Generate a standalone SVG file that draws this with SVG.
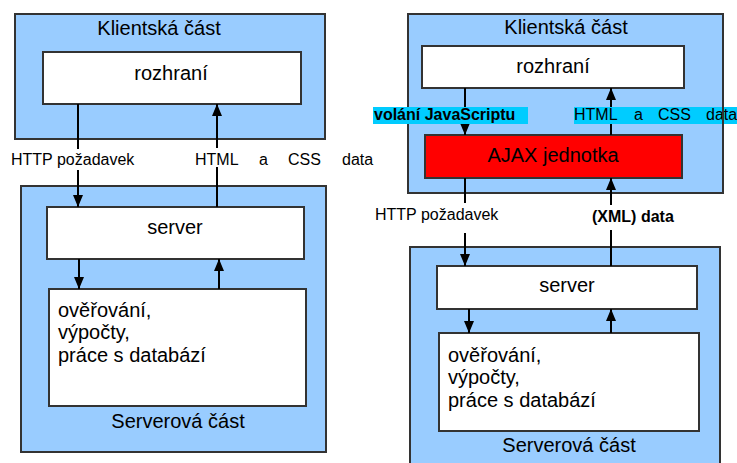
<svg xmlns="http://www.w3.org/2000/svg" width="737" height="463" viewBox="0 0 737 463">
<style>
.outer{fill:#99CCFF;stroke:#333333;stroke-width:2}
.inner{fill:#FFFFFF;stroke:#333333;stroke-width:2}
.red{fill:#FF0000;stroke:#333333;stroke-width:2}
.big{font-family:"Liberation Sans",Arial,sans-serif;font-size:20px;fill:#000}
.lbl{font-family:"Liberation Sans",Arial,sans-serif;font-size:16px;fill:#000}
.bold{font-weight:bold}
.mid{text-anchor:middle}
.conn{stroke:#000;stroke-width:2;fill:none}
.bg{fill:#FFFFFF}
.bar{fill:#00CCFF}
</style>
<defs>
<marker id="ah" viewBox="0 0 12 10" refX="12" refY="5" markerWidth="12" markerHeight="10" markerUnits="userSpaceOnUse" orient="auto">
<path d="M0,0 L12,5 L0,10 z" fill="#000"/>
</marker>
</defs>
<rect width="737" height="463" fill="#FFFFFF"/>

<!-- Left diagram -->
<g id="left-client">
<rect class="outer" x="15" y="14" width="310" height="125"/>
<text class="big mid" x="159" y="35">Klientská část</text>
</g>
<g id="left-rozhrani">
<rect class="inner" x="43" y="52" width="258" height="52"/>
<text class="big mid" x="171" y="80">rozhraní</text>
</g>
<g id="left-server-part">
<rect class="outer" x="21" y="186" width="305" height="266"/>
<text class="big mid" x="178" y="428">Serverová část</text>
</g>
<g id="left-server">
<rect class="inner" x="47" y="207" width="257" height="52"/>
<text class="big mid" x="175" y="234">server</text>
</g>
<g id="left-db">
<rect class="inner" x="49" y="289" width="257" height="117"/>
<text class="big" x="58" y="317">ověřování,</text>
<text class="big" x="58" y="339">výpočty,</text>
<text class="big" x="58" y="362">práce s databází</text>
</g>

<!-- Right diagram -->
<g id="right-client">
<rect class="outer" x="408" y="14" width="315" height="179"/>
<text class="big mid" x="566" y="34">Klientská část</text>
</g>
<g id="right-rozhrani">
<rect class="inner" x="422" y="46" width="262" height="42"/>
<text class="big mid" x="553" y="73">rozhraní</text>
</g>
<g id="right-ajax">
<rect class="red" x="425" y="135" width="257" height="43"/>
<text class="big mid" x="553" y="162">AJAX jednotka</text>
</g>
<g id="right-server-part">
<rect class="outer" x="410" y="247" width="310" height="220"/>
<text class="big mid" x="569" y="452">Serverová část</text>
</g>
<g id="right-server">
<rect class="inner" x="437" y="266" width="260" height="43"/>
<text class="big mid" x="567" y="292">server</text>
</g>
<g id="right-db">
<rect class="inner" x="439" y="333" width="260" height="98"/>
<text class="big" x="448" y="362">ověřování,</text>
<text class="big" x="448" y="384">výpočty,</text>
<text class="big" x="448" y="407">práce s databází</text>
</g>

<g id="connectors">
<!-- left -->
<line class="conn" x1="78" y1="104" x2="78" y2="207" marker-end="url(#ah)"/>
<line class="conn" x1="217" y1="207" x2="217" y2="104" marker-end="url(#ah)"/>
<line class="conn" x1="79" y1="259" x2="79" y2="289" marker-end="url(#ah)"/>
<line class="conn" x1="219" y1="289" x2="219" y2="259" marker-end="url(#ah)"/>
<!-- right -->
<line class="conn" x1="465" y1="88" x2="465" y2="135" marker-end="url(#ah)"/>
<line class="conn" x1="611" y1="135" x2="611" y2="88" marker-end="url(#ah)"/>
<line class="conn" x1="465" y1="178" x2="465" y2="266" marker-end="url(#ah)"/>
<line class="conn" x1="611" y1="266" x2="611" y2="178" marker-end="url(#ah)"/>
<line class="conn" x1="469" y1="309" x2="469" y2="333" marker-end="url(#ah)"/>
<line class="conn" x1="611" y1="333" x2="611" y2="309" marker-end="url(#ah)"/>

<!-- left labels -->
<rect class="bg" x="8" y="149" width="132" height="21"/>
<text class="lbl" x="11" y="165">HTTP požadavek</text>
<rect class="bg" x="192" y="148" width="188" height="19"/>
<text class="lbl" x="195" y="165">HTML</text>
<text class="lbl" x="259" y="165">a</text>
<text class="lbl" x="288" y="165">CSS</text>
<text class="lbl" x="342" y="165">data</text>

<!-- right labels -->
<rect class="bar" x="373" y="107" width="155" height="17"/>
<text class="lbl bold" x="374" y="120">volání JavaScriptu</text>
<rect class="bar" x="574" y="107" width="163" height="17"/>
<text class="lbl" x="574" y="120">HTML</text>
<text class="lbl" x="634" y="120">a</text>
<text class="lbl" x="658" y="120">CSS</text>
<text class="lbl" x="706" y="120">data</text>
<line x1="723" y1="107" x2="723" y2="124" stroke="#333333" stroke-width="2"/>

<rect class="bg" x="372" y="203" width="128" height="30"/>
<text class="lbl" x="375" y="220">HTTP požadavek</text>
<rect class="bg" x="588" y="205" width="90" height="25"/>
<text class="lbl bold" x="592" y="222">(XML) data</text>
</g>
</svg>
